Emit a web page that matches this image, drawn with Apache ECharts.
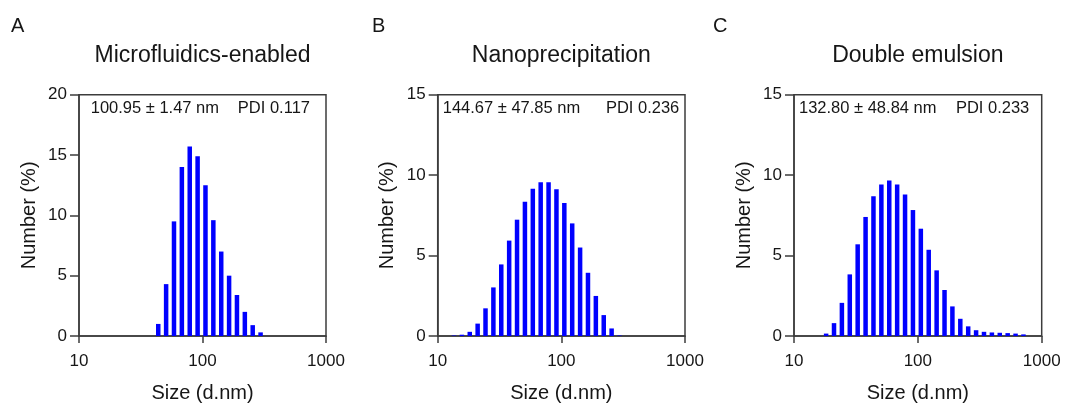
<!DOCTYPE html>
<html><head><meta charset="utf-8">
<script src="https://cdn.jsdelivr.net/npm/echarts@6/dist/echarts.min.js"></script>
<style>html,body{margin:0;padding:0;background:#fff}#c{width:1066px;height:408px}</style>
</head><body><div id="c"></div>
<script>
// ---- data ----
const panelLetters = ['A', 'B', 'C'];
const panelTitles = ['Microfluidics-enabled', 'Nanoprecipitation', 'Double emulsion'];
const sizeTexts = ['100.95 \u00b1 1.47 nm', '144.67 \u00b1 47.85 nm', '132.80 \u00b1 48.84 nm'];
const pdiTexts = ['PDI 0.117', 'PDI 0.236', 'PDI 0.233'];
const yMaxes = [20, 15, 15];
const xTicks = [10, 100, 1000];

const sizesA = [43.82, 50.75, 58.77, 68.06, 78.82, 91.28, 105.7, 122.4, 141.8, 164.2, 190.1, 220.2, 255.0, 295.3];
const numberA = [1.0, 4.3, 9.5, 14.0, 15.7, 14.9, 12.5, 9.6, 7.0, 5.0, 3.4, 2.0, 0.9, 0.3];

const sizesB = [13.54, 15.69, 18.17, 21.04, 24.36, 28.21, 32.67, 37.84, 43.82, 50.75, 58.77, 68.06, 78.82, 91.28, 105.7, 122.4, 141.8, 164.2, 190.1, 220.2, 255.0, 295.3];
const numberB = [0.03, 0.08, 0.26, 0.77, 1.72, 3.02, 4.45, 5.93, 7.23, 8.34, 9.15, 9.55, 9.55, 9.13, 8.26, 7.0, 5.5, 3.93, 2.49, 1.3, 0.47, 0.03];

const sizesC = [18.17, 21.04, 24.36, 28.21, 32.67, 37.84, 43.82, 50.75, 58.77, 68.06, 78.82, 91.28, 105.7, 122.4, 141.8, 164.2, 190.1, 220.2, 255.0, 295.3, 342.0, 396.1, 458.7, 531.2, 615.1, 712.4];
const numberC = [0.15, 0.8, 2.06, 3.83, 5.7, 7.4, 8.68, 9.42, 9.67, 9.42, 8.8, 7.83, 6.67, 5.36, 4.08, 2.86, 1.84, 1.07, 0.6, 0.36, 0.26, 0.22, 0.2, 0.18, 0.15, 0.1];

const panelSizes = [sizesA, sizesB, sizesC];
const panelNumbers = [numberA, numberB, numberC];

// ---- layout ----
const FONT = '"Liberation Sans", Arial, Helvetica, sans-serif';
const TXT = '#161616';
const AX = '#3c3c3c';
const grids = [
  {left: 79, top: 94.7, width: 247, height: 245.3},
  {left: 437.7, top: 94.7, width: 247.3, height: 247},
  {left: 794, top: 94.7, width: 247.7, height: 247}
];
const letterX = [11, 372, 713];
const annoLeft = [90.7, 442.7, 799];
const annoRight = [310, 679.3, 1029.3];

const chart = echarts.init(document.getElementById('c'), null, {renderer: 'canvas'});

const option = {
  animation: false,
  backgroundColor: '#ffffff',
  textStyle: {fontFamily: FONT},
  grid: grids.map(g => Object.assign({show: true, borderColor: AX, borderWidth: 1.5, backgroundColor: 'transparent', containLabel: false}, g)),
  xAxis: grids.map((g, i) => ({
    type: 'log', logBase: 10, gridIndex: i, min: 10, max: 1000,
    name: 'Size (d.nm)', nameLocation: 'middle', nameGap: 47,
    nameTextStyle: {fontSize: 20, color: TXT, fontFamily: FONT},
    axisLine: {show: true, lineStyle: {color: AX, width: 1.5}},
    axisTick: {show: true, length: 7, lineStyle: {color: AX, width: 1.5}},
    minorTick: {show: false},
    splitLine: {show: false},
    axisLabel: {fontSize: 17, color: TXT, margin: 17, fontFamily: FONT,
      formatter: v => String(Math.round(v)), showMinLabel: true, showMaxLabel: true}
  })),
  yAxis: grids.map((g, i) => ({
    type: 'value', gridIndex: i, min: 0, max: yMaxes[i], interval: 5,
    name: 'Number (%)', nameLocation: 'middle', nameGap: 40, nameRotate: 90,
    nameTextStyle: {fontSize: 20, color: TXT, fontFamily: FONT},
    axisLine: {show: true, lineStyle: {color: AX, width: 1.5}},
    axisTick: {show: true, length: 9, lineStyle: {color: AX, width: 1.5}},
    splitLine: {show: false},
    axisLabel: {fontSize: 17, color: TXT, margin: 12, fontFamily: FONT}
  })),
  series: panelSizes.map((sizes, i) => ({
    type: 'custom', xAxisIndex: i, yAxisIndex: i,
    data: sizes.map((s, k) => [s, panelNumbers[i][k]]),
    encode: {x: 0, y: 1},
    renderItem: function (params, api) {
      const x = api.value(0), y = api.value(1);
      const top = api.coord([x, y]);
      const bot = api.coord([x, 0]);
      const w = 4.5;
      return {type: 'rect', shape: {x: top[0] - w / 2, y: top[1], width: w, height: bot[1] - top[1]},
        style: {fill: '#0000ff'}};
    },
    z: 1
  })),
  graphic: [].concat(
    panelLetters.map((t, i) => ({type: 'text', x: letterX[i], y: 26,
      style: {text: t, font: '20px ' + FONT, fill: TXT, align: 'left', verticalAlign: 'middle'}})),
    panelTitles.map((t, i) => ({type: 'text', x: grids[i].left + grids[i].width / 2, y: 55.5,
      style: {text: t, font: '23px ' + FONT, fill: TXT, align: 'center', verticalAlign: 'middle'}})),
    sizeTexts.map((t, i) => ({type: 'text', x: annoLeft[i], y: 108,
      style: {text: t, font: '16.5px ' + FONT, fill: TXT, align: 'left', verticalAlign: 'middle'}})),
    pdiTexts.map((t, i) => ({type: 'text', x: annoRight[i], y: 108,
      style: {text: t, font: '16.5px ' + FONT, fill: TXT, align: 'right', verticalAlign: 'middle'}}))
  )
};
chart.setOption(option);
</script>
</body></html>
